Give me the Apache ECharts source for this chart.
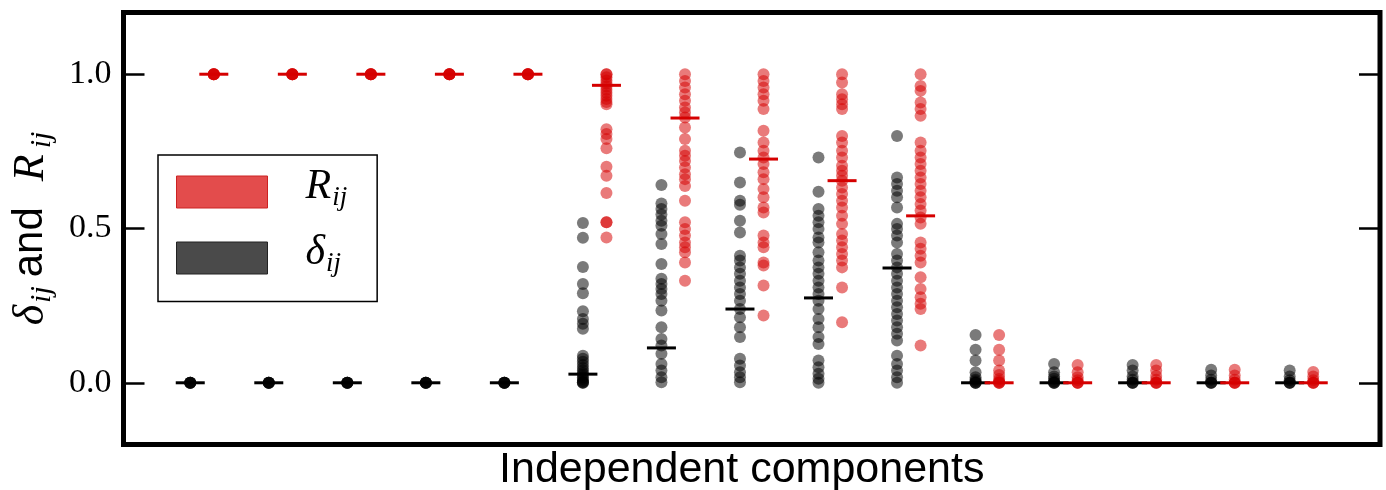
<!DOCTYPE html>
<html>
<head>
<meta charset="utf-8">
<script src="https://cdn.jsdelivr.net/npm/echarts@6/dist/echarts.min.js"></script>
<style>
html,body{margin:0;padding:0;background:#fff;}
#chart{width:1386px;height:490px;}
</style>
</head>
<body>
<div id="chart"></div>
<script>
// ---- data ----
const components = [0,1,2,3,4,5,6,7,8,9,10,11,12,13,14];
const yTicks = [0.0, 0.5, 1.0];

// delta_ij values for each independent component
const deltaValues = [
  [0,0,0,0,0],
  [0,0,0,0,0],
  [0,0,0,0,0],
  [0,0,0,0,0],
  [0,0,0,0,0],
  [0.518,0.470,0.375,0.320,0.290,0.232,0.207,0.191,0.175,0.088,0.078,0.068,0.058,0.048,0.040,0.032,0.025,0.018,0.012,0.006,0.002,0,0],
  [0.641,0.581,0.563,0.545,0.525,0.509,0.482,0.450,0.385,0.337,0.320,0.304,0.288,0.266,0.234,0.180,0.142,0.121,0.094,0.061,0.040,0.018,0.002],
  [0.746,0.649,0.590,0.577,0.525,0.487,0.412,0.396,0.374,0.353,0.331,0.309,0.288,0.266,0.239,0.212,0.180,0.148,0.078,0.056,0.034,0.018,0.002],
  [0.730,0.619,0.563,0.541,0.520,0.498,0.471,0.455,0.423,0.396,0.374,0.353,0.331,0.309,0.288,0.266,0.239,0.207,0.180,0.148,0.126,0.072,0.050,0.029,0.013,0.0],
  [0.800,0.665,0.644,0.622,0.601,0.568,0.515,0.498,0.477,0.455,0.417,0.396,0.374,0.353,0.331,0.309,0.288,0.266,0.245,0.223,0.202,0.180,0.159,0.137,0.088,0.061,0.040,0.018,0.0],
  [0.155,0.107,0.072,0.034,0.018,0.010,0.005,0,0,0],
  [0.061,0.034,0.020,0.013,0.005,0,0,0],
  [0.058,0.040,0.020,0.010,0,0,0],
  [0.042,0.024,0.010,0,0,0],
  [0.040,0.020,0.008,0,0,0]
];

// R_ij values for each independent component
const rValues = [
  [1,1,1,1,1],
  [1,1,1,1,1],
  [1,1,1,1,1],
  [1,1,1,1,1],
  [1,1,1,1,1],
  [1.0,1.0,0.99,0.98,0.97,0.96,0.95,0.94,0.93,0.92,0.91,0.903,0.822,0.806,0.790,0.760,0.700,0.671,0.615,0.520,0.520,0.471],
  [1.0,0.978,0.957,0.935,0.914,0.892,0.876,0.860,0.827,0.790,0.752,0.736,0.719,0.698,0.676,0.660,0.638,0.590,0.520,0.498,0.477,0.455,0.439,0.423,0.390,0.331],
  [1.0,0.978,0.957,0.935,0.914,0.887,0.817,0.779,0.752,0.730,0.709,0.682,0.660,0.628,0.601,0.568,0.552,0.477,0.455,0.439,0.390,0.380,0.315,0.218],
  [1.0,0.973,0.935,0.919,0.903,0.887,0.800,0.779,0.752,0.730,0.703,0.687,0.671,0.655,0.633,0.612,0.590,0.568,0.541,0.515,0.482,0.461,0.439,0.417,0.396,0.374,0.309,0.196],
  [1.0,0.962,0.946,0.908,0.887,0.865,0.779,0.752,0.730,0.709,0.687,0.665,0.644,0.622,0.601,0.579,0.558,0.536,0.515,0.455,0.434,0.412,0.390,0.342,0.304,0.277,0.256,0.239,0.121],
  [0.155,0.107,0.072,0.040,0.025,0.012,0.005,0,0,0],
  [0.058,0.034,0.018,0.008,0,0,0],
  [0.058,0.040,0.022,0.010,0,0,0],
  [0.042,0.024,0.010,0,0,0],
  [0.035,0.020,0.008,0,0,0]
];

// horizontal marks (central value) of each column
const deltaMarks = [0,0,0,0,0,0.028,0.113,0.239,0.275,0.372,0,0,0,0,0];
const rMarks     = [1,1,1,1,1,0.964,0.858,0.725,0.655,0.541,0,0,0,0,0];

// ---- build ----
const OFF = 0.15;
const blackPts = [], redPts = [];
components.forEach((c, i) => {
  deltaValues[i].forEach(v => blackPts.push([c - OFF, v]));
  rValues[i].forEach(v => redPts.push([c + OFF, v]));
});
const blackMarks = components.map((c, i) => [c - OFF, deltaMarks[i]]);
const redMarks = components.map((c, i) => [c + OFF, rMarks[i]]);

const RED = '#d50000';
const chart = echarts.init(document.getElementById('chart'), null, {renderer: 'canvas'});

const serifIt = {fontFamily: 'Liberation Serif', fontStyle: 'italic', color: '#000'};

chart.setOption({
  animation: false,
  backgroundColor: '#fff',
  grid: {left: 123.5, right: 6, top: 12.5, bottom: 45.5, containLabel: false, outerBoundsMode: 'none',
         show: true, borderColor: '#000', borderWidth: 5, backgroundColor: 'transparent'},
  legend: {
    orient: 'vertical',
    left: 158, top: 155,
    padding: [10.5, 30, 17, 18],
    backgroundColor: '#fff',
    borderColor: '#000', borderWidth: 1.5, borderRadius: 0,
    itemWidth: 91, itemHeight: 32, itemGap: 13,
    icon: 'rect',
    selectedMode: false,
    data: [
      {name: 'R', itemStyle: {color: '#e34c4c', borderColor: '#cc2222', borderWidth: 1, opacity: 1}},
      {name: 'δ', itemStyle: {color: '#4a4a4a', borderColor: '#222', borderWidth: 1, opacity: 1}}
    ],
    formatter: n => '{m|' + n + '}{s|ij}',
    textStyle: {
      lineHeight: 32,
      rich: {
        m: Object.assign({fontSize: 42, lineHeight: 32, padding: [0, 1, 11, 33], verticalAlign: 'middle'}, serifIt),
        s: Object.assign({fontSize: 27, lineHeight: 32, padding: [12, 0, 0, 0], verticalAlign: 'middle'}, serifIt)
      }
    }
  },
  xAxis: {
    type: 'value', min: -1, max: 15,
    axisLine: {show: false, onZero: false}, axisTick: {show: false}, axisLabel: {show: false}, splitLine: {show: false},
    name: 'Independent components', nameLocation: 'middle', nameGap: 4,
    nameTextStyle: {fontFamily: 'Liberation Sans', fontSize: 43, color: '#000', verticalAlign: 'top', padding: [0, 20, 0, 0]}
  },
  yAxis: [{
    type: 'value', min: -0.2, max: 1.2, position: 'left',
    axisLine: {show: false, onZero: false}, splitLine: {show: false},
    axisTick: {show: true, inside: true, length: 21, customValues: yTicks, lineStyle: {color: '#000', width: 2.5}},
    axisLabel: {customValues: yTicks, formatter: v => v.toFixed(1), fontFamily: 'Liberation Serif', fontSize: 34, color: '#000', margin: 12},
    name: '{d|δ}{s|ij}{a|and}{r|R}{t|ij}',
    nameLocation: 'middle', nameGap: 73, nameRotate: 90,
    nameTextStyle: {
      lineHeight: 40,
      rich: {
        d: Object.assign({fontSize: 44, lineHeight: 40, padding: [2, 0, 0, 0], verticalAlign: 'middle'}, serifIt),
        r: Object.assign({fontSize: 44, lineHeight: 40, padding: [2, 0, 0, 22], verticalAlign: 'middle'}, serifIt),
        s: Object.assign({fontSize: 30, lineHeight: 40, padding: [24, 0, 0, 2], verticalAlign: 'middle'}, serifIt),
        t: Object.assign({fontSize: 30, lineHeight: 40, padding: [24, 0, 0, 6], verticalAlign: 'middle'}, serifIt),
        a: {fontFamily: 'Liberation Sans', fontSize: 42, color: '#000', lineHeight: 40, padding: [0, 4, 0, 9], verticalAlign: 'middle'}
      }
    }
  }, {
    type: 'value', min: -0.2, max: 1.2, position: 'right',
    axisLine: {show: false, onZero: false}, splitLine: {show: false}, axisLabel: {show: false},
    axisTick: {show: true, inside: true, length: 21, customValues: yTicks, lineStyle: {color: '#000', width: 2.5}}
  }],
  series: [
    {name: 'δ', type: 'scatter', data: blackPts, symbolSize: 12, itemStyle: {color: '#000', opacity: 0.52}, z: 2},
    {name: 'R', type: 'scatter', data: redPts, symbolSize: 12, itemStyle: {color: RED, opacity: 0.52}, z: 2},
    {name: 'δ', type: 'scatter', data: blackMarks, symbol: 'rect', symbolSize: [29, 3], itemStyle: {color: '#000', opacity: 1}, z: 3},
    {name: 'R', type: 'scatter', data: redMarks, symbol: 'rect', symbolSize: [29, 3], itemStyle: {color: RED, opacity: 1}, z: 3}
  ]
});
</script>
</body>
</html>
